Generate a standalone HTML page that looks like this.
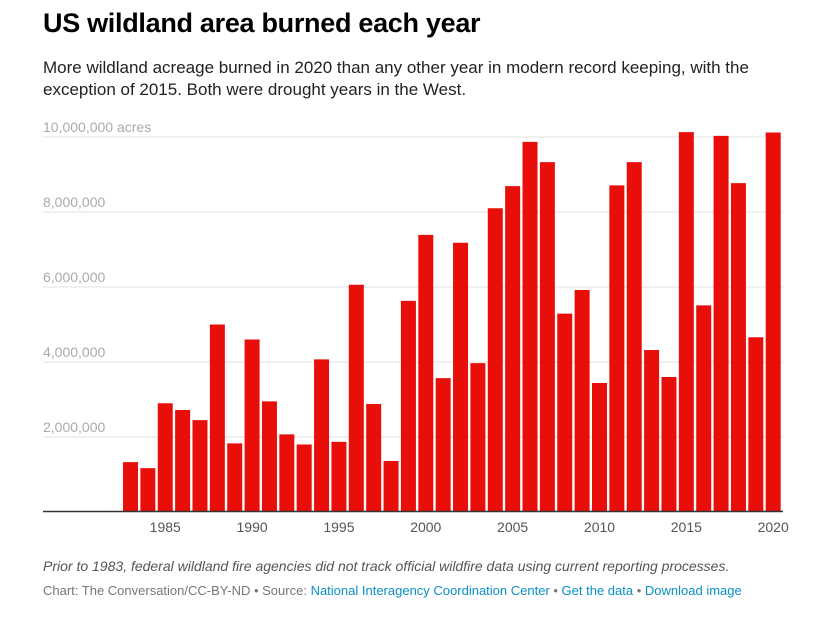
<!DOCTYPE html>
<html><head><meta charset="utf-8"><style>
body{margin:0;background:#fff;font-family:"Liberation Sans",sans-serif;}
#wrap{position:relative;width:823px;height:624px;overflow:hidden;}
h1{position:absolute;left:43px;top:8px;margin:0;font-size:27px;font-weight:bold;color:#000;letter-spacing:-0.3px;}
.sub{position:absolute;left:43px;top:57px;width:770px;font-size:17px;line-height:22px;color:#222;}
.note{position:absolute;left:43px;top:558px;font-size:14px;font-style:italic;color:#555;}
.src{position:absolute;left:43px;top:583px;font-size:13px;color:#777;}
.src a{color:#0b8fc6;text-decoration:none;}
</style></head><body><div id="wrap">
<h1>US wildland area burned each year</h1>
<div class="sub">More wildland acreage burned in 2020 than any other year in modern record keeping, with the exception of 2015. Both were drought years in the West.</div>
<svg id="chart" width="823" height="624" style="position:absolute;left:0;top:0"></svg>
<div class="note">Prior to 1983, federal wildland fire agencies did not track official wildfire data using current reporting processes.</div>
<div class="src">Chart: The Conversation/CC-BY-ND • Source: <a>National Interagency Coordination Center</a> • <a>Get the data</a> • <a>Download image</a></div>
</div>
<script>
const years=[1983,1984,1985,1986,1987,1988,1989,1990,1991,1992,1993,1994,1995,1996,1997,1998,1999,2000,2001,2002,2003,2004,2005,2006,2007,2008,2009,2010,2011,2012,2013,2014,2015,2016,2017,2018,2019,2020];
const acres=[1.33,1.17,2.9,2.72,2.45,5.0,1.83,4.6,2.95,2.07,1.8,4.07,1.87,6.06,2.88,1.36,5.63,7.39,3.57,7.18,3.97,8.1,8.69,9.87,9.33,5.29,5.92,3.44,8.71,9.33,4.32,3.6,10.13,5.51,10.03,8.77,4.66,10.12].map(v=>v*1e6);
const yTicks=[2e6,4e6,6e6,8e6,10e6];
const yTickLabels=["2,000,000","4,000,000","6,000,000","8,000,000","10,000,000 acres"];
const xTickYears=[1985,1990,1995,2000,2005,2010,2015,2020];
const NS="http://www.w3.org/2000/svg",svg=document.getElementById('chart');
const x0=123,step=17.37,bw=15,y0=512,pxPer=375/10e6;
const xs=i=>x0+i*step, ys=v=>y0-v*pxPer;
function mk(t,a){const e=document.createElementNS(NS,t);for(const k in a)e.setAttribute(k,a[k]);svg.appendChild(e);return e;}
yTicks.forEach((v,i)=>{
 const g=mk('line',{x1:43,x2:783,y1:ys(v),y2:ys(v),stroke:'#e2e2e2','stroke-width':1});
 
 
 const t=mk('text',{x:43,y:ys(v)-5,'font-size':14,fill:'#aaa','font-family':'Liberation Sans'});
 t.textContent=yTickLabels[i];
 
 
});
years.forEach((yr,i)=>{
 const r=mk('rect',{x:xs(i),y:ys(acres[i]),width:bw,height:y0-ys(acres[i]),fill:'#e80f0a'});
 
 
});
const ax=mk('line',{x1:43,x2:783,y1:y0-0.5,y2:y0-0.5,stroke:'#333','stroke-width':1.5});


xTickYears.forEach(yr=>{
 const i=years.indexOf(yr);
 const t=mk('text',{x:xs(i)+bw/2,y:532,'font-size':14,fill:'#555','text-anchor':'middle','font-family':'Liberation Sans'});
 t.textContent=yr;
 
 
});
</script></body></html>
